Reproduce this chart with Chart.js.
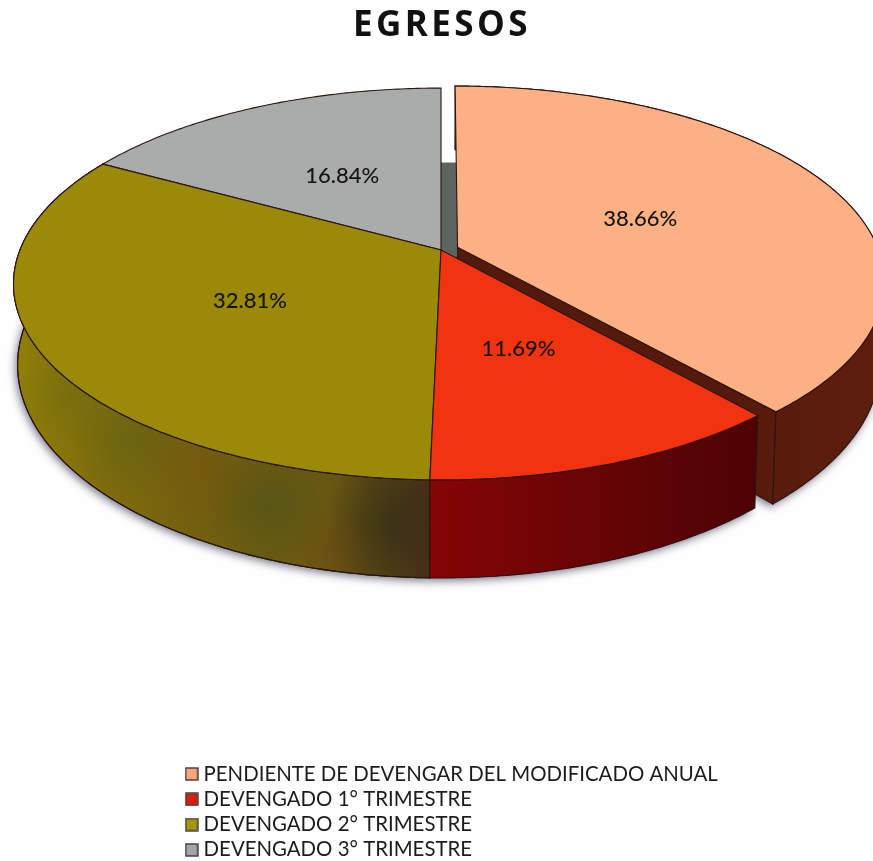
<!DOCTYPE html>
<html>
<head>
<meta charset="utf-8">
<style>
  html, body { margin: 0; padding: 0; background: #fff; overflow: hidden; }
  canvas { display: block; filter: blur(0.4px); }
</style>
<script src="https://cdn.jsdelivr.net/npm/chart.js@4/dist/chart.umd.min.js"></script>
</head>
<body>
<canvas id="chart" width="873" height="861"></canvas>
<script>
const categories = [
  'PENDIENTE DE DEVENGAR DEL MODIFICADO ANUAL',
  'DEVENGADO 1° TRIMESTRE',
  'DEVENGADO 2° TRIMESTRE',
  'DEVENGADO 3° TRIMESTRE',
];
const shares = [38.66, 11.69, 32.81, 16.84];
const topColors = ['#fdb084', '#f2330f', '#9a8a08', '#a9acab'];
const legendColors = ['#fba67a', '#d9200f', '#a8960c', '#a3a5ad'];
const explode = [0.042, 0, 0, 0];

// perspective of the pie, fitted to the reference
const view = {
  cx: 441,
  tilt: 0.1735,
  top: { y: 250, rx: 421, ry: 190 },
  bottom: { y: 328, rx: 417, ry: 206.6 },
};

function project(u, v, disc) {
  const w = 1 + view.tilt * v;
  return { x: view.cx + disc.rx * u / w, y: disc.y - disc.ry * v / w };
}

function sliceInfo(arc, i) {
  const start = arc.startAngle + Math.PI / 2;
  const end = arc.endAngle + Math.PI / 2;
  const mid = (start + end) / 2;
  return {
    start, end, mid,
    ox: explode[i] * Math.sin(mid),
    oy: explode[i] * Math.cos(mid),
  };
}

function rimPoints(s, disc) {
  const pts = [];
  const n = Math.ceil((s.end - s.start) * 90);
  for (let k = 0; k <= n; k++) {
    const t = s.start + (s.end - s.start) * k / n;
    pts.push(project(s.ox + Math.sin(t), s.oy + Math.cos(t), disc));
  }
  return pts;
}

function tracePoly(ctx, pts) {
  ctx.beginPath();
  pts.forEach((p, k) => (k ? ctx.lineTo(p.x, p.y) : ctx.moveTo(p.x, p.y)));
  ctx.closePath();
}

function paint(ctx, pts, fill) {
  tracePoly(ctx, pts);
  ctx.fillStyle = fill;
  ctx.fill();
  ctx.strokeStyle = '#2a1510';
  ctx.lineWidth = 1.1;
  ctx.stroke();
}

function wallGradient(ctx, stops) {
  const g = ctx.createLinearGradient(0, 0, 873, 0);
  stops.forEach(([at, c]) => g.addColorStop(at, c));
  return g;
}

function mottle(ctx, pts, patches) {
  ctx.save();
  tracePoly(ctx, pts);
  ctx.clip();
  patches.forEach(([x, y, r, c]) => {
    const g = ctx.createRadialGradient(x, y, 0, x, y, r);
    g.addColorStop(0, c);
    g.addColorStop(1, c.replace(/[\d.]+\)$/, '0)'));
    ctx.fillStyle = g;
    ctx.fillRect(x - r, y - r, 2 * r, 2 * r);
  });
  ctx.restore();
}

const pie3d = {
  id: 'pie3d',
  beforeDatasetsDraw(chart) {
    const ctx = chart.ctx;
    const slices = chart.getDatasetMeta(0).data.map(sliceInfo);

    const wallFills = [
      wallGradient(ctx, [[0.5, '#521a0c'], [0.85, '#561a0c'], [1, '#5e1e0e']]),
      wallGradient(ctx, [[0.49, '#860506'], [0.7, '#650405'], [0.87, '#4c0304']]),
      wallGradient(ctx, [[0, '#938207'], [0.12, '#7f6c0c'], [0.25, '#6f5e10'],
                         [0.37, '#6a5812'], [0.45, '#4f3e16'], [0.5, '#4a2c18']]),
      '#55585a',
    ];

    ctx.save();
    // soft cast shadow under the front of the cake
    ctx.save();
    ctx.beginPath();
    ctx.rect(0, 295, chart.width, chart.height - 295);
    ctx.clip();
    ctx.shadowColor = 'rgba(35,35,70,0.6)';
    ctx.shadowBlur = 9;
    ctx.shadowOffsetX = -2;
    ctx.shadowOffsetY = 3;
    [0, 1, 2].forEach(i => {
      const s = slices[i];
      tracePoly(ctx, rimPoints(s, view.bottom).concat(project(s.ox, s.oy, view.bottom)));
      ctx.fillStyle = '#444';
      ctx.fill();
    });
    ctx.restore();

    // inner face seen through the gap at the top of the exploded slice
    const o = slices[0];
    const gapReach = 0.93;
    tracePoly(ctx, [
      project(0, 0, view.bottom),
      project(0, gapReach, view.bottom),
      project(o.ox * 1.3, gapReach, view.bottom),
      project(o.ox * 1.3, o.oy, view.bottom),
    ]);
    ctx.fillStyle = '#5e655f';
    ctx.fill();

    // walls, back to front
    [3, 0, 2, 1].forEach(i => {
      const s = slices[i];
      const topRim = rimPoints(s, view.top);
      const botRim = rimPoints(s, view.bottom);
      const apexTop = project(s.ox, s.oy, view.top);
      const apexBot = project(s.ox, s.oy, view.bottom);
      if (i !== 3) {
        paint(ctx, [apexTop, topRim[topRim.length - 1], botRim[botRim.length - 1], apexBot], wallFills[i]);
        const wall = topRim.concat(botRim.slice().reverse());
        paint(ctx, wall, wallFills[i]);
        if (i === 2) {
          mottle(ctx, wall, [
            [70, 395, 55, 'rgba(95,100,20,0.35)'],
            [130, 440, 60, 'rgba(75,90,25,0.35)'],
            [200, 470, 70, 'rgba(120,72,12,0.3)'],
            [270, 505, 65, 'rgba(60,75,25,0.4)'],
            [395, 525, 70, 'rgba(40,38,22,0.5)'],
            [330, 550, 40, 'rgba(115,62,15,0.3)'],
          ]);
          tracePoly(ctx, wall);
          ctx.strokeStyle = '#2a1510';
          ctx.stroke();
        }
      }
    });

    // top faces
    [3, 2, 0, 1].forEach(i => {
      const s = slices[i];
      paint(ctx, [project(s.ox, s.oy, view.top)].concat(rimPoints(s, view.top)), topColors[i]);
    });

    // value labels
    ctx.font = '500 22px Lato';
    ctx.fillStyle = '#15150f';
    ctx.textAlign = 'center';
    ctx.textBaseline = 'middle';
    slices.forEach((s, i) => {
      const p = project(s.ox / 2 + 0.5 * Math.sin(s.mid), s.oy / 2 + 0.5 * Math.cos(s.mid), view.top);
      ctx.fillText(shares[i].toFixed(2) + '%', p.x, p.y + 2);
    });
    ctx.restore();
    return false;
  },
};

function swatch(color) {
  const c = document.createElement('canvas');
  c.width = 14;
  c.height = 14;
  const g = c.getContext('2d');
  g.fillStyle = color;
  g.fillRect(1, 1, 12, 12);
  g.strokeStyle = '#3a3a3a';
  g.lineWidth = 1.4;
  g.strokeRect(1, 1, 12, 12);
  return c;
}

// canvas background plus the wider tracking of the title
const pageSetup = {
  id: 'pageSetup',
  beforeDraw(chart) {
    chart.ctx.fillStyle = '#fefefe';
    chart.ctx.fillRect(0, 0, chart.width, chart.height);
  },
  afterLayout(chart) {
    const block = chart.titleBlock;
    if (block.spaced) return;
    const drawTitle = block.draw.bind(block);
    block.draw = function () {
      chart.ctx.save();
      chart.ctx.letterSpacing = '3.4px';
      drawTitle();
      chart.ctx.restore();
    };
    block.spaced = true;
  },
};

new Chart(document.getElementById('chart').getContext('2d'), {
  type: 'pie',
  data: {
    labels: categories,
    datasets: [{ data: shares, backgroundColor: legendColors }],
  },
  options: {
    responsive: false,
    animation: false,
    layout: { padding: { left: 185, right: 174, bottom: -4, top: 0 } },
    plugins: {
      title: {
        display: true,
        text: 'EGRESOS',
        color: '#111',
        font: { family: 'Open Sans', size: 35, weight: 'bold' },
        padding: { top: 5, bottom: 8 },
      },
      tooltip: { enabled: false },
      legend: {
        position: 'left',
        align: 'end',
        maxWidth: 560,
        labels: {
          color: '#1c1c1c',
          font: { family: 'Lato', size: 20.4 },
          usePointStyle: true,
          pointStyleWidth: 3.5,
          padding: 4.9,
          generateLabels(chart) {
            return categories.map((text, i) => ({
              text,
              index: i,
              fontColor: '#1c1c1c',
              pointStyle: swatch(legendColors[i]),
            }));
          },
        },
      },
    },
  },
  plugins: [pageSetup, pie3d],
});
</script>
</body>
</html>
